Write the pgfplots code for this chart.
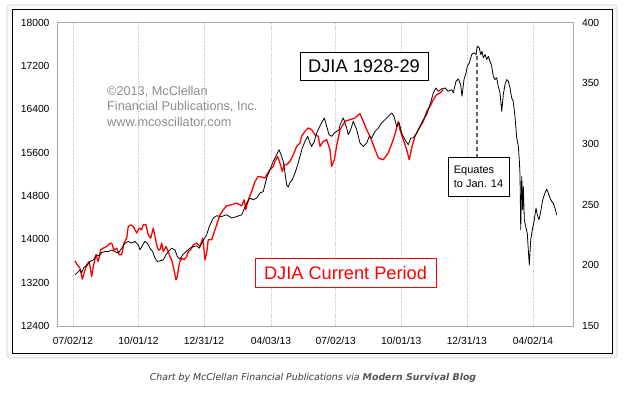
\documentclass[border=0pt]{standalone}
\usepackage{pgfplots}
\pgfplotsset{compat=1.18}
\usepackage{fontspec}
\setmainfont{Liberation Sans}
\newfontfamily\capfont{DejaVu Sans}
\definecolor{wm}{RGB}{140,140,140}
\definecolor{frame}{RGB}{170,170,170}
\definecolor{capc}{RGB}{60,60,60}
\definecolor{capb}{RGB}{85,85,85}
\begin{document}
\begin{tikzpicture}[x=1pt,y=1pt]
\useasboundingbox (0,0) rectangle (627,393);
\fill[white] (0,0) rectangle (627,393);
\draw[gray!25, fill=gray!5, rounded corners=3pt, line width=1pt] (7,35) rectangle (617,388);
\fill[white] (12,39) rectangle (612,383);
\draw[black, line width=1pt] (12,39) rectangle (612,383);
\begin{axis}[at={(57.5pt,67pt)}, anchor=south west, scale only axis,
  width=515.5pt, height=303.5pt,
  xmin=-21.5, xmax=694.5, ymin=12400, ymax=18000,
  axis line style={frame},
  xtick={0,91,182,275,365,456,547,639},
  xticklabels={07/02/12,10/01/12,12/31/12,04/03/13,07/02/13,10/01/13,12/31/13,04/02/14},
  ytick={12400,13200,14000,14800,15600,16400,17200,18000},
  scaled y ticks=false,
  major tick length=0pt,
  xmajorgrids, major x grid style={gray!40, line width=0.6pt, dash pattern=on 0.6pt off 1.2pt},
  tick label style={font=\fontsize{10.3}{12}\selectfont},
  /pgf/number format/assume math mode=true,
  /pgf/number format/1000 sep={},
  yticklabel style={xshift=-4.5pt},
  xticklabel style={yshift=-8pt},
  clip=false]
\addplot[red, line width=1.3pt, line join=round] coordinates {
(2.8,13602)(6.0,13528)(9.7,13467)(12.9,13264)(16.7,13435)(19.0,13528)(22.6,13589)(26.0,13312)(28.2,13496)(31.9,13713)(35.1,13589)(38.5,13805)(42.1,13836)(46.8,13866)(50.4,13916)(53.8,13929)(56.9,13805)(60.7,13836)(64.3,13713)(67.6,13713)(70.8,13929)(74.6,14021)(76.8,14236)(80.1,14267)(83.8,14236)(88.5,14114)(92.1,14206)(95.4,14175)(97.6,14267)(101.4,14267)(104.6,14082)(107.9,14021)(111.5,14206)(113.9,14051)(116.3,13897)(118.5,13805)(120.8,13805)(123.2,13929)(125.4,13774)(129.2,13866)(132.4,13774)(134.7,13681)(137.1,13620)(140.3,13435)(143.1,13251)(144.9,13312)(147.7,13559)(151.0,13652)(154.2,13620)(157.9,13681)(160.2,13774)(163.5,13805)(167.1,13897)(171.8,13929)(176.4,13866)(180.2,14021)(183.3,13620)(185.7,13744)(187.9,13990)(192.6,13990)(197.2,14175)(204.2,14452)(208.8,14544)(213.5,14618)(220.4,14637)(227.4,14668)(234.3,14618)(237.9,14729)(239.9,14544)(243.5,14729)(248.2,14882)(252.8,15067)(257.4,15160)(262.1,15149)(266.7,15130)(269.0,15191)(273.6,15283)(278.2,15344)(280.6,15437)(284.3,15529)(287.5,15407)(290.7,15252)(293.5,15376)(296.8,15376)(301.4,15437)(306.0,15561)(310.7,15714)(315.3,15777)(317.5,15899)(322.2,15991)(326.8,16054)(331.5,16023)(336.1,15930)(340.7,15899)(343.1,15714)(347.7,15806)(352.4,15838)(357.0,15653)(359.3,15344)(363.0,15468)(366.3,15727)(370.9,16023)(377.8,16176)(384.8,16207)(391.7,16239)(398.6,16318)(403.2,16176)(407.9,16023)(412.5,15899)(417.1,15745)(424.1,15500)(431.0,15468)(437.9,15592)(444.9,15838)(449.6,16054)(451.8,16176)(454.2,16023)(458.8,15838)(463.5,15653)(467.1,15468)(470.4,15684)(475.0,15899)(479.6,16023)(486.6,16176)(491.3,16361)(495.9,16453)(500.5,16577)(505.2,16669)(509.8,16701)(514.4,16762)
};
\end{axis}
\begin{axis}[at={(57.5pt,67pt)}, anchor=south west, scale only axis,
  width=515.5pt, height=303.5pt,
  xmin=-21.5, xmax=694.5, ymin=150, ymax=400,
  axis x line=none, axis y line*=right,
  axis line style={frame},
  ytick={150,200,250,300,350,400},
  major tick length=0pt,
  tick label style={font=\fontsize{10.3}{12}\selectfont},
  /pgf/number format/assume math mode=true,
  yticklabel style={xshift=5.5pt},
  clip=false]
\addplot[black, line width=0.8pt, line join=round] coordinates {
(2.8,192.1)(6.0,194.0)(9.7,196.2)(12.1,194.0)(15.3,198.5)(19.0,199.5)(23.6,203.1)(28.2,204.5)(32.9,208.6)(36.5,207.8)(39.9,210.5)(44.4,211.3)(49.0,211.3)(53.8,212.7)(58.3,211.3)(62.9,210.0)(67.6,214.1)(72.2,218.3)(76.8,219.6)(81.5,218.3)(86.1,219.6)(90.7,216.8)(93.1,212.7)(96.8,216.8)(100.0,219.6)(103.2,218.3)(107.0,214.1)(110.7,211.3)(113.9,205.9)(117.1,203.1)(120.8,203.6)(125.4,204.5)(129.2,208.6)(132.4,211.3)(137.1,214.1)(141.7,212.7)(144.9,207.2)(148.6,205.0)(152.4,208.6)(157.0,211.3)(162.5,214.1)(167.1,215.4)(171.8,216.0)(175.4,214.1)(178.8,218.3)(182.0,221.6)(185.7,225.1)(189.3,231.9)(194.9,238.9)(199.6,240.8)(206.5,240.2)(213.5,241.6)(220.4,238.9)(227.4,240.2)(234.3,241.6)(241.3,251.3)(245.9,255.4)(250.4,254.0)(255.2,255.4)(259.7,259.5)(264.3,260.8)(269.0,271.9)(273.6,278.7)(278.2,285.6)(282.9,291.1)(286.1,295.2)(288.9,291.1)(292.1,285.6)(294.5,276.0)(296.8,266.3)(299.0,264.5)(301.4,268.2)(304.6,270.5)(308.4,276.0)(312.1,282.8)(315.3,289.7)(318.5,296.6)(322.2,302.1)(326.0,306.2)(329.2,300.8)(331.5,297.9)(335.2,302.1)(338.5,309.0)(341.7,313.1)(345.4,317.3)(349.1,321.4)(352.4,314.4)(355.6,307.6)(359.3,306.2)(363.0,309.0)(366.3,310.3)(369.5,311.7)(370.9,315.8)(375.5,321.4)(380.2,313.1)(382.4,307.6)(385.7,311.7)(389.3,318.6)(394.1,311.7)(398.6,300.8)(403.2,297.9)(407.9,300.8)(411.6,306.2)(414.9,304.9)(419.5,310.3)(424.1,313.1)(428.8,317.3)(433.4,320.0)(437.9,322.7)(442.7,325.5)(445.9,322.7)(449.6,314.4)(453.2,317.3)(456.5,309.0)(461.1,303.5)(465.7,299.3)(469.1,304.9)(472.7,304.9)(477.4,309.0)(482.0,314.4)(486.6,320.0)(491.3,324.1)(495.9,332.3)(500.5,342.0)(504.2,346.1)(507.4,343.3)(512.1,345.3)(516.7,346.1)(521.3,343.3)(526.0,344.7)(528.2,342.0)(532.0,351.6)(535.2,353.6)(538.5,348.8)(540.3,339.2)(543.1,353.0)(545.9,358.5)(547.7,363.9)(550.5,366.8)(553.8,373.6)(557.0,375.0)(559.8,373.6)(561.6,380.4)(564.3,379.1)(566.3,373.6)(568.1,376.3)(569.9,370.9)(572.3,373.6)(574.6,369.5)(576.9,372.2)(579.2,368.1)(581.6,363.9)(583.8,355.7)(586.2,353.0)(588.5,354.4)(590.7,347.4)(593.1,342.0)(595.5,326.8)(597.7,340.6)(600.0,348.8)(602.4,353.0)(604.6,351.6)(607.0,346.1)(609.3,337.9)(611.5,335.1)(613.9,322.7)(616.3,305.1)(618.5,298.5)(619.9,287.0)(620.9,274.6)(621.9,229.2)(623.3,273.2)(624.6,245.7)(625.5,264.9)(626.9,237.5)(628.8,231.9)(631.0,226.5)(632.4,212.7)(633.8,200.3)(635.8,221.0)(638.0,229.2)(640.8,237.5)(643.1,247.1)(644.9,241.6)(647.3,237.5)(649.7,244.3)(652.4,254.0)(655.6,259.5)(658.0,262.8)(660.2,259.5)(662.6,255.4)(664.9,252.6)(667.1,251.3)(669.5,247.1)(671.9,241.6)
};
\draw[gray!75!black, line width=1.8pt, dash pattern=on 4pt off 3pt] (axis cs:561.6,372) -- (axis cs:561.6,289.5);
\end{axis}
\node[draw=black, fill=white, line width=0.8pt, minimum width=128pt, minimum height=28pt, inner sep=0pt,
  font=\fontsize{18.3}{20}\selectfont] at (364,327) {DJIA 1928-29};
\node[draw=red, fill=white, text=red, line width=0.8pt, minimum width=181pt, minimum height=29pt, inner sep=0pt,
  font=\fontsize{18.2}{20}\selectfont] at (345.5,120.5) {DJIA Current Period};
\node[draw=black, fill=white, line width=0.6pt, minimum width=61pt, minimum height=39pt, inner sep=0pt,
  align=left, font=\fontsize{11}{14}\selectfont] at (478.5,216.5) {Equates\\to Jan. 14};
\node[anchor=west, inner sep=0pt, align=left, text=wm, font=\fontsize{12.7}{15.5}\selectfont] at (107,287) {©2013, McClellan\\Financial Publications, Inc.\\www.mcoscillator.com};
\node[text=capc, font=\capfont\itshape\fontsize{9.4}{11}\selectfont] at (313,15)
  {Chart by McClellan Financial Publications via {\color{capb}\bfseries Modern Survival Blog}};
\end{tikzpicture}
\end{document}
